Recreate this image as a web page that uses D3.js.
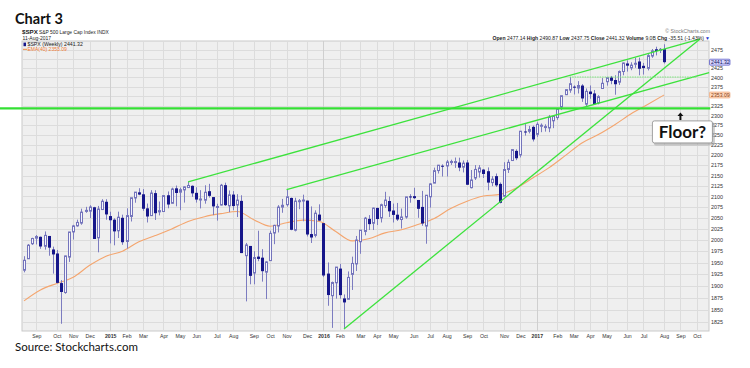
<!DOCTYPE html>
<html>
<head>
<meta charset="utf-8">
<style>
  body { margin: 0; background: #fff; }
  svg { display: block; font-family: "Liberation Sans", Arial, sans-serif; }
  .note { font-family: Lato, "Open Sans", sans-serif; fill: #111; }
</style>
</head>
<body>
<svg id="chart" width="750" height="368"></svg>
<script src="https://cdn.jsdelivr.net/npm/d3@7"></script>
<script>
  // Weekly $SPX candles, Aug 2014 - Aug 2017 (one value per week, Monday start)
  const firstWeek = new Date(2014, 7, 11);
  const lastWeek = new Date(2017, 7, 7);

  const opens = [
    1933.4, 1958.4, 1991.7, 2004.1, 2007.2, 1986.0, 2009.1, 1978.9, 1970.0, 1905.7, 1885.6, 1962.0, 2018.2, 2032.0, 2038.3, 2065.1, 2065.8, 2074.8, 2005.0, 2069.5, 2087.6,
    2054.4, 2046.1, 2020.8, 2050.4, 1996.7, 2053.5, 2096.5, 2109.8, 2105.2, 2072.3, 2055.4, 2108.0, 2064.1, 2064.9, 2102.9, 2084.1, 2119.3, 2110.2, 2115.6, 2121.1, 2125.3, 2108.6, 2092.3, 2091.3, 2112.5, 2098.6, 2075.0, 2080.0, 2126.8, 2078.2, 2104.5, 2080.0, 2089.7, 1965.2, 1986.7, 1927.3, 1963.1, 1960.8, 1929.2, 1954.3, 2015.7, 2031.7, 2075.1, 2080.8, 2096.6, 2022.1, 2089.4, 2090.9, 2090.4, 2013.4, 2010.3, 2057.8,
    2038.2, 1926.1, 1878.9, 1906.3, 1936.9, 1873.2, 1871.4, 1924.4, 1947.1, 1996.1, 2019.3, 2047.9, 2037.9, 2073.2, 2050.2, 2078.8, 2089.4, 2067.2, 2057.6, 2046.5, 2052.2, 2100.1, 2100.8, 2091.8, 2075.6, 2031.5, 2099.3, 2131.7, 2162.0, 2173.7, 2173.2, 2183.8, 2183.7, 2181.6, 2170.2, 2181.6, 2120.9, 2144.0, 2158.5, 2164.3, 2160.4, 2133.0, 2148.5, 2129.8, 2100.6, 2164.6, 2186.4, 2210.2, 2200.2, 2258.8, 2259.2, 2270.5,
    2251.6, 2273.6, 2269.1, 2267.8, 2286.0, 2294.3, 2321.7, 2354.0, 2366.1, 2375.2, 2371.6, 2378.2, 2329.1, 2362.3, 2357.2, 2332.6, 2370.3, 2388.5, 2399.9, 2393.0, 2387.2, 2415.9, 2437.8, 2425.9, 2437.0, 2443.3, 2431.4, 2424.5, 2458.2, 2476.9, 2475.9, 2477.14
  ];
  const highs = [
    1964.0, 1991.0, 2005.0, 2011.2, 2007.7, 2019.3, 2009.1, 1985.2, 1977.8, 1912.1, 1965.3, 2018.2, 2034.3, 2046.2, 2071.5, 2075.8, 2079.5, 2075.8, 2077.9, 2093.6, 2093.6,
    2064.4, 2049.3, 2064.6, 2057.6, 2072.4, 2097.0, 2110.6, 2119.6, 2117.5, 2083.5, 2114.9, 2114.9, 2088.2, 2102.6, 2111.9, 2120.9, 2125.9, 2120.9, 2123.9, 2134.7, 2126.2, 2121.9, 2115.0, 2126.6, 2130.0, 2098.6, 2083.0, 2129.9, 2132.8, 2114.2, 2112.7, 2105.4, 2102.9, 1993.5, 1986.7, 1975.0, 2020.9, 1979.6, 1953.0, 2020.9, 2034.5, 2079.7, 2094.3, 2116.5, 2097.4, 2097.0, 2094.1, 2104.3, 2090.4, 2076.7, 2067.7, 2081.6,
    2038.2, 1950.3, 1908.9, 1940.2, 1947.2, 1881.6, 1930.7, 1963.0, 2009.1, 2022.4, 2052.4, 2056.6, 2074.0, 2074.0, 2083.2, 2111.1, 2099.9, 2083.4, 2084.9, 2071.9, 2099.1, 2105.3, 2120.6, 2091.8, 2113.3, 2103.5, 2131.7, 2169.1, 2175.6, 2177.1, 2187.9, 2188.5, 2193.8, 2193.4, 2186.6, 2187.9, 2163.3, 2175.3, 2175.3, 2165.9, 2169.6, 2148.4, 2154.8, 2133.3, 2182.3, 2189.0, 2213.4, 2214.1, 2259.5, 2277.5, 2273.0, 2273.8,
    2282.1, 2279.3, 2277.0, 2301.0, 2298.3, 2319.2, 2351.3, 2367.8, 2401.0, 2378.8, 2390.0, 2382.0, 2370.4, 2378.4, 2366.4, 2352.6, 2398.2, 2399.3, 2403.9, 2405.8, 2418.7, 2440.2, 2446.2, 2441.0, 2453.8, 2453.8, 2439.3, 2463.5, 2477.6, 2484.0, 2480.4, 2490.87
  ];
  const lows = [
    1928.8, 1958.4, 1989.0, 1990.1, 1980.3, 1978.5, 1965.0, 1926.0, 1905.0, 1820.7, 1883.0, 1951.4, 2001.0, 2030.2, 2034.5, 2062.0, 2049.6, 2002.3, 1972.6, 2069.3, 2046.0,
    1992.4, 1988.1, 2004.5, 1989.2, 1980.9, 2041.9, 2085.4, 2103.0, 2066.4, 2039.7, 2055.4, 2045.5, 2056.0, 2064.1, 2072.4, 2083.8, 2077.0, 2067.9, 2085.7, 2120.1, 2099.2, 2085.7, 2072.1, 2083.1, 2097.4, 2056.6, 2044.0, 2078.8, 2077.7, 2063.5, 2067.9, 2052.1, 1970.9, 1867.0, 1903.1, 1903.1, 1953.0, 1908.8, 1871.9, 1954.3, 1990.7, 2017.0, 2062.0, 2076.4, 2022.0, 2019.4, 2070.3, 2042.4, 2008.0, 1993.3, 2005.9, 2043.6,
    1918.5, 1857.8, 1812.3, 1872.7, 1872.7, 1810.1, 1871.4, 1891.0, 1931.8, 1969.3, 2010.6, 2022.5, 2022.5, 2033.8, 2039.7, 2073.2, 2052.3, 2039.7, 2043.1, 2025.9, 2048.4, 2085.4, 2094.1, 2050.4, 2032.1, 1991.7, 2074.0, 2131.7, 2154.8, 2147.6, 2147.6, 2175.8, 2168.5, 2160.4, 2157.4, 2127.8, 2119.1, 2139.2, 2145.0, 2144.0, 2114.7, 2124.4, 2122.5, 2083.8, 2100.6, 2156.1, 2186.4, 2187.4, 2194.0, 2248.4, 2254.0, 2233.6,
    2245.1, 2257.0, 2258.4, 2257.0, 2267.2, 2288.5, 2313.7, 2352.9, 2359.0, 2354.5, 2357.2, 2335.0, 2322.3, 2343.3, 2329.0, 2328.5, 2370.3, 2378.0, 2381.7, 2353.8, 2379.8, 2405.7, 2415.7, 2419.4, 2425.9, 2405.7, 2407.7, 2418.9, 2453.3, 2459.9, 2466.5, 2437.75
  ];
  const closes = [
    1955.1, 1988.4, 2003.4, 2007.7, 1985.5, 2010.4, 1982.9, 1967.9, 1906.1, 1886.8, 1964.6, 2018.1, 2031.9, 2039.8, 2063.5, 2067.6, 2075.4, 2002.3, 2070.7, 2088.8, 2058.2,
    2044.8, 2019.4, 2051.8, 1995.0, 2055.5, 2097.0, 2110.3, 2104.5, 2071.3, 2053.4, 2108.1, 2061.0, 2067.0, 2102.1, 2081.2, 2117.7, 2108.3, 2116.1, 2122.7, 2126.1, 2107.4, 2092.8, 2094.1, 2110.0, 2101.5, 2076.8, 2076.6, 2126.6, 2079.7, 2103.8, 2077.6, 2091.5, 1970.9, 1988.9, 1921.2, 1961.1, 1958.0, 1931.3, 1951.4, 2014.9, 2033.1, 2075.2, 2079.4, 2099.2, 2023.0, 2089.2, 2090.1, 2091.7, 2012.4, 2005.6, 2061.0, 2043.9,
    1922.0, 1880.3, 1906.9, 1940.2, 1880.1, 1864.8, 1917.8, 1948.1, 2000.0, 2022.2, 2049.6, 2035.9, 2072.8, 2047.6, 2080.7, 2091.6, 2065.3, 2057.1, 2046.6, 2052.3, 2099.1, 2099.1, 2096.1, 2071.2, 2037.4, 2103.0, 2129.9, 2161.7, 2175.0, 2173.6, 2182.9, 2184.1, 2183.9, 2169.0, 2180.0, 2127.8, 2139.2, 2164.7, 2168.3, 2153.7, 2133.0, 2141.2, 2126.4, 2085.2, 2164.5, 2181.9, 2213.4, 2192.0, 2259.5, 2258.1, 2263.8, 2238.8,
    2277.0, 2274.6, 2271.3, 2294.7, 2297.4, 2316.1, 2351.2, 2367.3, 2383.1, 2372.6, 2378.3, 2344.0, 2362.7, 2355.5, 2329.0, 2348.7, 2384.2, 2399.3, 2390.9, 2381.7, 2415.8, 2439.1, 2431.8, 2433.2, 2438.3, 2423.4, 2425.2, 2459.3, 2472.5, 2472.1, 2476.8, 2441.32
  ];

  // EMA(40), every 4th week
  const emaWeekIndex = [0, 4, 8, 12, 16, 20, 24, 28, 32, 36, 40, 44, 48, 52, 56, 60, 64, 68, 72, 76, 80, 84, 88, 92, 96, 100, 104, 108, 112, 116, 120, 124, 128, 132, 136, 140, 144, 148, 152, 156];
  const emaValues = [1868, 1891, 1905, 1918, 1944, 1964, 1975, 1996, 2010, 2025, 2042, 2053, 2060, 2065, 2046, 2031, 2039, 2045, 2042, 2019, 1998, 2003, 2016, 2023, 2035, 2049, 2072, 2089, 2101, 2105, 2120, 2144, 2169, 2199, 2230, 2251, 2276, 2304, 2328, 2353.09];

  // grid levels; 2450 and 2350 labels sit under the price boxes
  const priceTicks = [1825, 1850, 1875, 1900, 1925, 1950, 1975, 2000, 2025, 2050, 2075, 2100, 2125, 2150, 2175, 2200, 2225, 2250, 2275, 2300, 2325, 2350, 2375, 2400, 2425, 2450, 2475];
  const hiddenTicks = [2350, 2450];
  const monthLabels = ['Sep', 'Oct', 'Nov', 'Dec',
    '2015', 'Feb', 'Mar', 'Apr', 'May', 'Jun', 'Jul', 'Aug', 'Sep', 'Oct', 'Nov', 'Dec',
    '2016', 'Feb', 'Mar', 'Apr', 'May', 'Jun', 'Jul', 'Aug', 'Sep', 'Oct', 'Nov', 'Dec',
    '2017', 'Feb', 'Mar', 'Apr', 'May', 'Jun', 'Jul', 'Aug', 'Sep', 'Oct'];

  // hand drawn annotation lines: [date, price] end points
  const trendLines = [
    [[new Date(2015, 4, 18), 2134.7], [new Date(2017, 9, 7), 2505]],
    [[new Date(2015, 10, 2), 2116.5], [new Date(2017, 9, 23), 2413]],
    [[new Date(2016, 1, 8), 1810.1], [new Date(2017, 9, 7), 2505]]
  ];
  const floorLine = [[new Date(2014, 6, 1), 2318], [new Date(2017, 9, 25), 2318]];
  const resistLine = [[new Date(2017, 1, 27), 2401], [new Date(2017, 9, 2), 2401]];

  const svg = d3.select('#chart');
  const plot = { left: 22, right: 709, top: 41, bottom: 331 };

  const x = d3.scaleTime().domain([firstWeek, lastWeek]).range([24, 664]);
  const y = d3.scaleLog().domain([1806, 2500]).range([plot.bottom, plot.top]);

  const weeks = d3.timeMonday.range(firstWeek, d3.timeDay.offset(lastWeek, 1));
  const candles = weeks.map((d, i) => ({ date: d, o: opens[i], h: highs[i], l: lows[i], c: closes[i] }));
  const monthTicks = d3.timeMonth.range(new Date(2014, 8, 1), new Date(2017, 10, 1)).map(d => d3.timeMonday.ceil(d));

  // titles
  svg.append('text').attr('class', 'note').attr('x', 15).attr('y', 24)
    .attr('font-size', 14.5).attr('font-weight', 700).text('Chart 3');
  svg.append('text').attr('class', 'note').attr('x', 15).attr('y', 351)
    .attr('font-size', 11.5).text('Source: Stockcharts.com');

  // plot background + grid
  svg.append('rect')
    .attr('x', plot.left).attr('y', plot.top)
    .attr('width', plot.right - plot.left).attr('height', plot.bottom - plot.top)
    .attr('fill', '#efefef').attr('stroke', '#c9c9c9');

  svg.append('g').selectAll('line').data(priceTicks).join('line')
    .attr('x1', plot.left).attr('x2', plot.right)
    .attr('y1', d => Math.round(y(d)) + 0.5).attr('y2', d => Math.round(y(d)) + 0.5)
    .attr('stroke', '#dcdcdc');

  svg.append('g').selectAll('line').data(monthTicks).join('line')
    .attr('x1', d => Math.round(x(d)) + 0.5).attr('x2', d => Math.round(x(d)) + 0.5)
    .attr('y1', plot.top).attr('y2', plot.bottom)
    .attr('stroke', (d, i) => monthLabels[i].length === 4 ? '#cfcfcf' : '#dcdcdc');

  // axes
  const yAxis = d3.axisRight(y)
    .tickValues(priceTicks.filter(v => !hiddenTicks.includes(v)))
    .tickSize(0).tickPadding(2).tickFormat(d3.format('d'));
  svg.append('g').attr('transform', `translate(${plot.right},0)`).call(yAxis)
    .call(g => g.select('.domain').remove())
    .selectAll('text').attr('font-size', 5.4).attr('fill', '#333').attr('font-family', 'Liberation Sans, Arial');

  const xAxis = d3.axisBottom(x).tickValues(monthTicks).tickSize(0).tickPadding(3)
    .tickFormat((d, i) => monthLabels[i]);
  svg.append('g').attr('transform', `translate(0,${plot.bottom})`).call(xAxis)
    .call(g => g.select('.domain').remove())
    .selectAll('text')
    .attr('font-size', 5.2).attr('fill', '#333').attr('font-family', 'Liberation Sans, Arial')
    .attr('font-weight', (d, i) => monthLabels[i].length === 4 ? 700 : 400);

  // EMA line
  const emaLine = d3.line()
    .x(d => x(weeks[d[0]]))
    .y(d => y(d[1]))
    .curve(d3.curveMonotoneX);
  svg.append('path')
    .datum(emaWeekIndex.map((w, i) => [w, emaValues[i]]))
    .attr('fill', 'none').attr('stroke', '#f4a56e').attr('stroke-width', 1.1)
    .attr('d', emaLine);

  // candles
  const cg = svg.append('g');
  cg.selectAll('line').data(candles).join('line')
    .attr('x1', d => Math.round(x(d.date)) + 0.5).attr('x2', d => Math.round(x(d.date)) + 0.5)
    .attr('y1', d => y(d.h)).attr('y2', d => y(d.l))
    .attr('stroke', '#7c7cc0').attr('stroke-width', 1);

  cg.selectAll('rect').data(candles).join('rect')
    .attr('x', d => Math.round(x(d.date)) - (d.c >= d.o ? 0.5 : 1))
    .attr('width', d => d.c >= d.o ? 2 : 3)
    .attr('y', d => y(Math.max(d.o, d.c)))
    .attr('height', d => Math.max(1, Math.abs(y(d.o) - y(d.c))))
    .attr('fill', d => d.c >= d.o ? '#f6f6fc' : '#16168a')
    .attr('stroke', d => d.c >= d.o ? '#7474bc' : 'none')
    .attr('stroke-width', 1);

  // annotation lines
  const seg = d3.line().x(d => x(d[0])).y(d => y(d[1]));
  svg.append('g').selectAll('path').data(trendLines).join('path')
    .attr('d', seg).attr('fill', 'none').attr('stroke', '#3ce23c').attr('stroke-width', 1.3);
  svg.append('path').datum(floorLine).attr('d', seg)
    .attr('fill', 'none').attr('stroke', '#33e033').attr('stroke-width', 2.4);
  svg.append('path').datum(resistLine).attr('d', seg)
    .attr('fill', 'none').attr('stroke', '#7be87b').attr('stroke-width', 1)
    .attr('stroke-dasharray', '1.5,1');

  // header texts
  const hdr = svg.append('g').attr('font-family', 'Liberation Sans, Arial').attr('fill', '#222');
  hdr.append('text').attr('x', 22).attr('y', 34).attr('font-size', 6.2).attr('font-weight', 700).text('$SPX');
  hdr.append('text').attr('x', 39).attr('y', 34).attr('font-size', 4.9).text('S&P 500 Large Cap Index INDX');
  hdr.append('text').attr('x', 22.5).attr('y', 39.6).attr('font-size', 5).text('11-Aug-2017');
  hdr.append('text').attr('x', 710).attr('y', 33).attr('font-size', 5.2).attr('fill', '#777')
    .attr('text-anchor', 'end').text('\u00a9 StockCharts.com');

  const ohlc = hdr.append('text').attr('x', 704).attr('y', 40.3).attr('font-size', 5.1).attr('text-anchor', 'end');
  [['Open', '2477.14'], ['High', '2490.87'], ['Low', '2437.75'], ['Close', '2441.32'], ['Volume', '9.0B'], ['Chg', '-35.51 (-1.43%)']]
    .forEach(([k, v]) => {
      ohlc.append('tspan').attr('font-weight', 700).text(k + ' ');
      ohlc.append('tspan').text(v + '  ');
    });
  hdr.append('text').attr('x', 705).attr('y', 40.3).attr('font-size', 5).attr('fill', '#2233cc').text('\u25BC');

  // legend inside plot
  hdr.append('rect').attr('x', 23.5).attr('y', 42.6).attr('width', 2.5).attr('height', 3.6).attr('fill', '#16168a');
  hdr.append('text').attr('x', 27.5).attr('y', 46.3).attr('font-size', 5.2).text('$SPX (Weekly) 2441.32');
  hdr.append('line').attr('x1', 23).attr('x2', 27).attr('y1', 49.3).attr('y2', 49.3).attr('stroke', '#f07a30').attr('stroke-width', 0.9);
  hdr.append('text').attr('x', 27.5).attr('y', 51).attr('font-size', 5).attr('fill', '#f07a30').text('EMA(40) 2353.09');

  // price boxes on right axis
  [[closes[closes.length - 1], '#d6d6fb', '#3535b8', '#111166'], [emaValues[emaValues.length - 1], '#fdd7bd', '#f2a06c', '#8a3d10']]
    .forEach(([v, fill, stroke, txt]) => {
      svg.append('rect').attr('x', 709.5).attr('y', y(v) - 3).attr('width', 20.5).attr('height', 6)
        .attr('fill', fill).attr('stroke', stroke).attr('stroke-width', 0.6).attr('rx', 1);
      svg.append('text').attr('x', 711).attr('y', y(v) + 1.9).attr('font-size', 5.2).attr('fill', txt)
        .text(v.toFixed(2));
    });

  // "Floor?" call-out
  const ax = x(new Date(2017, 8, 4));
  const ay = y(2318);
  svg.append('path')
    .attr('d', `M${ax},${ay + 4} l-3,3.5 h2 v4 h2 v-4 h2 z`)
    .attr('fill', '#111');
  svg.append('rect').attr('x', ax - 26.5).attr('y', ay + 14).attr('width', 61).attr('height', 23)
    .attr('fill', '#9a9a9a').attr('opacity', 0.5).attr('rx', 2);
  svg.append('rect').attr('x', ax - 28).attr('y', ay + 12.5).attr('width', 60).attr('height', 22)
    .attr('fill', '#fff').attr('stroke', '#8c8c8c').attr('stroke-width', 0.8).attr('rx', 2);
  svg.append('text').attr('class', 'note').attr('x', ax + 2).attr('y', ay + 29.5)
    .attr('text-anchor', 'middle').attr('font-size', 17).attr('font-weight', 700).text('Floor?');
</script>
</body>
</html>
